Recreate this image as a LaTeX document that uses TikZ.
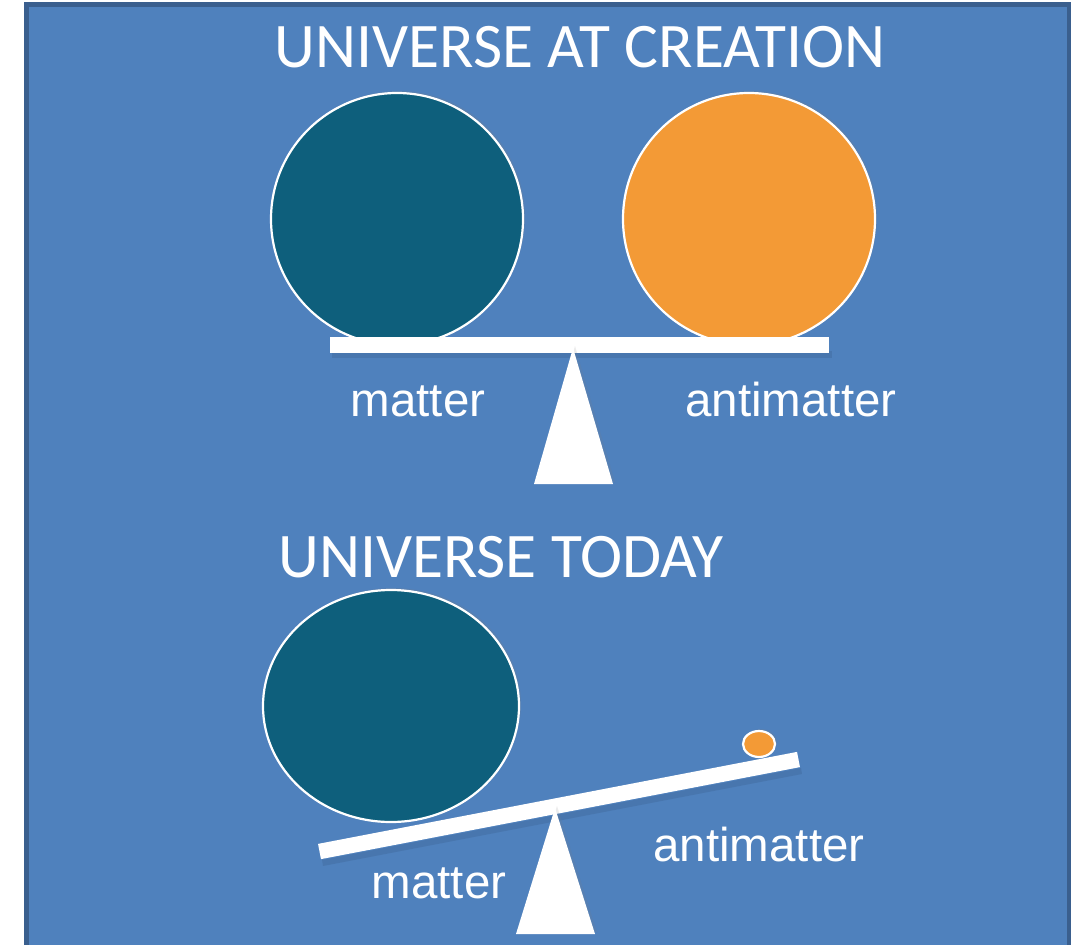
\documentclass[tikz,border=0pt]{standalone}
\usepackage{fontspec}
\setmainfont{Carlito}
\newfontfamily\arialfont{Liberation Sans}
\usetikzlibrary{shapes.geometric,shadows}
\definecolor{bgblue}{HTML}{4F81BD}
\definecolor{bgborder}{HTML}{3A5F8E}
\definecolor{teal}{HTML}{0E5F7C}
\definecolor{orangeball}{HTML}{F39A36}
\tikzset{
  title/.style={text=white, font=\fontsize{63.5}{70}\selectfont, anchor=base, inner sep=0pt},
  lab/.style={text=white, font=\arialfont\fontsize{47.5}{52}\selectfont, anchor=base, inner sep=0pt},
  ball/.style={draw=white, line width=2.2pt, drop shadow={opacity=0.2, shadow xshift=2pt, shadow yshift=2pt}},
  beam/.style={draw=white, line width=16pt, line cap=butt},
  beamshadow/.style={fill=black, opacity=0.08},
  pivot/.style={fill=white, draw=none, drop shadow={opacity=0.15, shadow xshift=2pt, shadow yshift=2pt}},
}
\begin{document}
\begin{tikzpicture}[x=1pt,y=-1pt]
\useasboundingbox (0,0) rectangle (1071,945);
\fill[white] (0,0) rectangle (1071,945);
\draw[fill=bgblue, draw=bgborder, line width=5pt] (26.5,4.5) rectangle (1069.5,960);

% titles
\node[title] (t1) at (580,67) {UNIVERSE AT CREATION};
\node[title] (t2) at (501,577) {UNIVERSE TODAY};

% top balance
\node[ball, circle, fill=teal, minimum size=252pt, inner sep=0pt] (m1) at (397,219) {};
\node[ball, circle, fill=orangeball, minimum size=252pt, inner sep=0pt] (a1) at (749,219) {};
\path[beamshadow] (332,351) rectangle (832,358);
\coordinate (b1l) at (330,345);
\coordinate (b1r) at (829,345);
\draw[beam] (b1l) -- (b1r);
\coordinate (p1top) at (573,348);
\coordinate (p1l) at (534,484);
\coordinate (p1r) at (613,484);
\path[pivot] (p1top) -- (p1l) -- (p1r) -- cycle;
\node[lab] (lm1) at (418,416) {matter};
\node[lab] (la1) at (791,416) {antimatter};

% bottom balance
\node[ball, ellipse, fill=teal, minimum width=256pt, minimum height=232pt, inner sep=0pt] (m2) at (391,706) {};
\node[ball, ellipse, fill=orangeball, minimum width=32pt, minimum height=26pt, inner sep=0pt] (a2) at (759,744) {};
\coordinate (b2l) at (319.5,851.5);
\coordinate (b2r) at (798.5,759.5);
\path[beamshadow] (322,860) -- (801,768) -- (802,774) -- (323,866) -- cycle;
\draw[beam, line width=15.5pt] (b2l) -- (b2r);
\coordinate (p2top) at (555,808);
\coordinate (p2l) at (516,934);
\coordinate (p2r) at (595,934);
\path[pivot] (p2top) -- (p2l) -- (p2r) -- cycle;
\node[lab] (lm2) at (439,898) {matter};
\node[lab] (la2) at (759,861) {antimatter};
\end{tikzpicture}
\end{document}
